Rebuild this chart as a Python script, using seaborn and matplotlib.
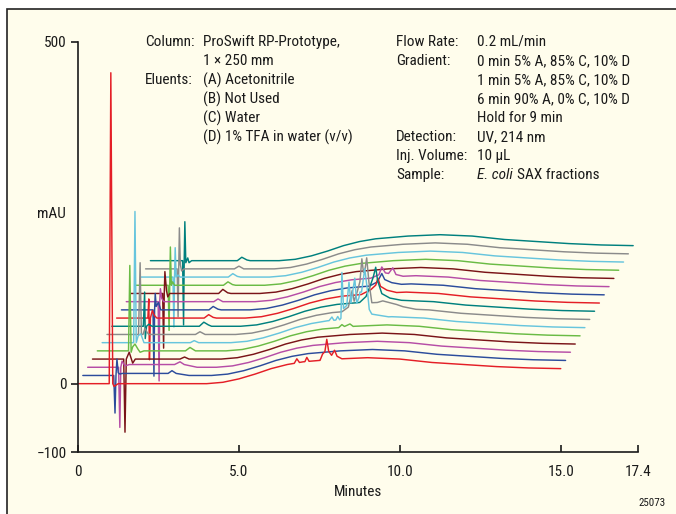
import numpy as np
import pandas as pd
import matplotlib
matplotlib.use("Agg")
import matplotlib.pyplot as plt
from matplotlib import font_manager
from matplotlib.patches import Rectangle
import seaborn as sns

# ------------------------------------------------------------------ data
TRACE_COLORS = ["#E41E26", "#2C4C9C", "#B64DA6", "#7A1418",
                "#6ABB45", "#67C5DD", "#8B8B8B", "#00807E"] * 2
TIME_STEP = 0.15      # min shift between successive traces
SIGNAL_STEP = 12.0    # mAU shift between successive traces

# common gradient baseline drift (own time, mAU)
BASE_T = [0, 4.0, 4.5, 5.0, 5.5, 6.0, 6.5, 7.0, 7.5, 8.0, 9.0, 10.0, 11.0, 12.0, 13.0, 14.0, 15.0]
BASE_V = [0, 0, 2, 7, 14, 22, 28, 32, 34, 36, 38, 36, 31, 28, 25, 23, 22]

# peaks of each trace above its baseline (own time, mAU)
T00 = [0.97, 1.02, 1.08, 1.12, 1.25, 6.72, 6.80, 6.88, 7.05, 7.11, 7.18, 7.52, 7.60, 7.67, 7.73, 7.79, 7.88, 7.97, 8.05, 8.20]
V00 = [0, 455, 0, -4, 0, 0, 6, 0, 0, 6, 0, 0, 9, 12, 30, 12, 6, 13, 4, 0]
T01 = [0.96, 1.00, 1.03, 1.06, 1.10, 1.15, 1.22, 2.65, 2.77, 2.90, 3.30]
V01 = [0, -55, 0, 24, 4, 2, 3, 3, 7, 3, 0]
T02 = [0.96, 1.00, 1.03, 1.07, 1.16, 1.30, 2.70, 2.87, 3.00, 3.40]
V02 = [0, -88, 0, 9, 2, 4, 4, 8, 4, 0]
T03 = [0.97, 1.01, 1.05, 1.14, 1.25, 1.33, 2.72, 2.86, 3.00]
V03 = [0, -107, 0, 10, -6, 0, 0, 3, 0]
T04 = [0.97, 1.01, 1.05, 1.10, 1.17, 1.27, 1.33, 1.45, 2.74, 2.88, 3.05, 7.50, 7.60, 7.68, 7.85, 7.95]
V04 = [0, 125, -2, 6, 10, 2, -2, 0, 0, 5, 0, 0, 4, 1, 4, 0]
T05 = [0.98, 1.02, 1.06, 1.12, 1.20, 1.30, 2.74, 2.86, 3.00,
       7.05, 7.14, 7.20, 7.26, 7.32, 7.38, 7.42, 7.45, 7.50, 7.60, 7.67, 7.73, 7.85, 7.91,
       7.98, 8.01, 8.06, 8.16, 8.23, 8.30, 8.38, 8.90]
V05 = [0, 192, 0, 10, 13, 0, 0, 3, 0,
       0, 5, 0, 0, 5, 0, 2, 69, 16, 20, 54, 23, 59, 22,
       30, 38, 38, 72, 45, 12, 5, 0]
T06 = [0.98, 1.03, 1.07, 1.12, 1.18, 1.25, 1.30, 2.75, 2.89, 3.05,
       7.30, 7.50, 7.62, 7.68, 7.78, 7.86, 7.92, 7.97, 8.02, 8.07, 8.14, 8.23, 8.40, 8.57, 9.20, 9.60]
V06 = [0, 105, 0, 0, 9, 3, 0, 0, 4, 0,
       0, 6, 30, 14, 28, 42, 75, 55, 60, 76, 40, 10, 10, 12, 3, 0]
T07 = [0.98, 1.02, 1.04, 1.08, 1.15, 1.25, 2.72, 2.86, 3.00, 3.10,
       7.70, 7.90, 8.02, 8.12, 8.20, 8.26, 8.39, 8.64, 9.00]
V07 = [0, 50, -18, 0, 3, 0, 0, 6, 2, 0,
       0, 8, 22, 35, 50, 30, 11, 4, 0]
T08 = [0.97, 1.00, 1.02, 1.05, 1.11, 1.17, 1.25, 2.72, 2.86, 3.00, 3.10,
       7.60, 7.90, 8.05, 8.12, 8.20, 8.40, 8.70]
V08 = [0, 28, -61, 0, 11, 4, 0, 0, 5, 1, 0,
       0, 6, 12, 22, 10, 4, 0]
T09 = [0.98, 1.01, 1.03, 1.05, 1.08, 1.15, 1.22, 2.72, 2.85, 3.00, 3.10,
       7.70, 7.95, 8.09, 8.18, 8.40, 8.70]
V09 = [0, -97, 0, 24, 5, 11, 0, 0, 5, 1, 0,
       0, 5, 17, 8, 3, 0]
T10 = [0.99, 1.02, 1.04, 1.06, 1.10, 1.16, 2.72, 2.85, 3.00,
       7.60, 7.85, 7.94, 8.05, 8.15, 8.28, 8.38, 8.60]
V10 = [0, -116, 0, 19, 5, 0, 0, 4, 0,
       0, 4, 15, 6, 5, 13, 3, 0]
T11 = [0.98, 1.01, 1.03, 1.05, 1.10, 1.14, 1.20, 2.72, 2.85, 3.00, 3.10]
V11 = [0, -80, 0, 32, 4, -5, 0, 0, 6, 1, 0]
T12 = [1.00, 1.03, 1.05, 1.07, 1.10, 1.14, 1.20, 2.72, 2.86, 3.00, 3.10]
V12 = [0, -66, 0, 56, 0, 5, 0, 0, 5, 1, 0]
T13 = [1.00, 1.03, 1.05, 1.07, 1.10, 1.16, 1.22, 2.72, 2.86, 3.00, 3.10]
V13 = [0, -73, 0, 43, 0, 3, 0, 0, 5, 1, 0]
T14 = [0.98, 1.01, 1.03, 1.05, 1.08, 1.12, 1.20, 2.76, 2.90, 3.05]
V14 = [0, -70, 0, 60, 6, -3, 0, 0, 4, 0]
T15 = [1.00, 1.03, 1.05, 1.07, 1.10, 1.16, 1.20, 1.28, 2.70, 2.84, 3.00, 3.10]
V15 = [0, -94, 0, 57, -3, 4, -3, 0, 0, 5, 1, 0]

PEAK_T = [T00, T01, T02, T03, T04, T05, T06, T07, T08, T09, T10, T11, T12, T13, T14, T15]
PEAK_V = [V00, V01, V02, V03, V04, V05, V06, V07, V08, V09, V10, V11, V12, V13, V14, V15]

X_TICKS = [0, 5, 10, 15, 17.4]
X_TICKLABELS = ["0", "5.0", "10.0", "15.0", "17.4"]
Y_TICKS = [500, 0, -100]
Y_TICKLABELS = ["500", "0", "\u2212100"]

LEFT_LABELS = ["Column:", "", "Eluents:", "", "", ""]
LEFT_VALUES = ["ProSwift RP-Prototype,", "1 \u00d7 250 mm", "(A) Acetonitrile",
               "(B) Not Used", "(C) Water", "(D) 1% TFA in water (v/v)"]
RIGHT_LABELS = ["Flow Rate:", "Gradient:", "", "", "", "Detection:", "Inj. Volume:", "Sample:"]
RIGHT_VALUES = ["0.2 mL/min", "0 min 5% A, 85% C, 10% D", "1 min 5% A, 85% C, 10% D",
                "6 min 90% A, 0% C, 10% D", "Hold for 9 min", "UV, 214 nm", "10 \u00b5L", None]

# ------------------------------------------------------------------ build table
rows = []
for i, (pt, pv) in enumerate(zip(PEAK_T, PEAK_V)):
    t = np.union1d(np.array(BASE_T, float), np.array(pt, float))
    v = np.interp(t, BASE_T, BASE_V) + np.interp(t, pt, pv, left=0, right=0)
    for tt, vv in zip(t, v):
        rows.append({"trace": f"t{i:02d}",
                     "minutes": tt + i * TIME_STEP,
                     "mAU": vv + i * SIGNAL_STEP})
df = pd.DataFrame(rows)
names = [f"t{i:02d}" for i in range(len(PEAK_T))]
palette = dict(zip(names, TRACE_COLORS))

# ------------------------------------------------------------------ style
sns.set_style("ticks")
avail = {f.name for f in font_manager.fontManager.ttflist}
narrow = None
for cand in ["Liberation Sans Narrow", "Roboto Condensed", "Open Sans Condensed"]:
    if cand in avail:
        narrow = cand
        break
if narrow:
    FAMILY = [narrow, "DejaVu Sans"]
    FS = 11.0
else:
    FAMILY = ["Liberation Sans", "DejaVu Sans"]
    FS = 9.3
plt.rcParams["font.family"] = FAMILY

W, H = 676, 514
fig = plt.figure(figsize=(W / 100, H / 100), dpi=100, facecolor="white")
bg = Rectangle((7 / W, -0.01), 1.0, 1 - 9 / H + 0.01, transform=fig.transFigure,
               facecolor="#FFFDEC", edgecolor="#222222", linewidth=1.2, zorder=-10)
fig.patches.append(bg)

ax_l, ax_r, ax_t, ax_b = 78, 638, 42, 452
ax = fig.add_axes([ax_l / W, 1 - ax_b / H, (ax_r - ax_l) / W, (ax_b - ax_t) / H])
ax.set_facecolor("none")
ax.patch.set_alpha(0)
ax.set_zorder(5)

sns.lineplot(data=df, x="minutes", y="mAU", hue="trace", hue_order=names[::-1],
             palette=palette, estimator=None, sort=False, legend=False,
             linewidth=1.05, ax=ax)

ax.set_xlim(0, 17.4)
ax.set_ylim(-100, 500)
for s in ["top", "right"]:
    ax.spines[s].set_visible(False)
for s in ["left", "bottom"]:
    ax.spines[s].set_color("#1a1a1a")
    ax.spines[s].set_linewidth(1.2)
ax.set_xticks(X_TICKS)
ax.set_xticklabels(X_TICKLABELS)
ax.set_yticks(Y_TICKS)
ax.set_yticklabels(Y_TICKLABELS)
ax.tick_params(axis="x", direction="in", length=5, width=1.2, pad=9, labelsize=FS, colors="#1a1a1a")
ax.tick_params(axis="y", direction="out", length=5, width=1.2, pad=3, labelsize=FS, colors="#1a1a1a")
ax.set_xlabel("")
ax.set_ylabel("")


def ftext(x, y, s, **kw):
    kw.setdefault("fontsize", FS)
    kw.setdefault("color", "#1a1a1a")
    return fig.text(x / W, 1 - y / H, s, va="center", zorder=6, **kw)


ftext(51, 214, "mAU", ha="center")
ftext(358, 492, "Minutes", ha="center")
ftext(652, 503, "25073", ha="center", fontsize=FS * 0.72)

y0, dy = 42, 19
for k, (lab, val) in enumerate(zip(LEFT_LABELS, LEFT_VALUES)):
    if lab:
        ftext(145, y0 + k * dy, lab)
    ftext(203, y0 + k * dy, val)
for k, (lab, val) in enumerate(zip(RIGHT_LABELS, RIGHT_VALUES)):
    if lab:
        ftext(396, y0 + k * dy, lab)
    if val is not None:
        ftext(477, y0 + k * dy, val)

ys = y0 + 7 * dy
t_it = ftext(477, ys, "E. coli", style="italic")
fig.canvas.draw()
bb = t_it.get_window_extent(renderer=fig.canvas.get_renderer())
ftext(bb.x1 + 4, ys, "SAX fractions")

fig.savefig("out.png", dpi=100, facecolor=fig.get_facecolor())
